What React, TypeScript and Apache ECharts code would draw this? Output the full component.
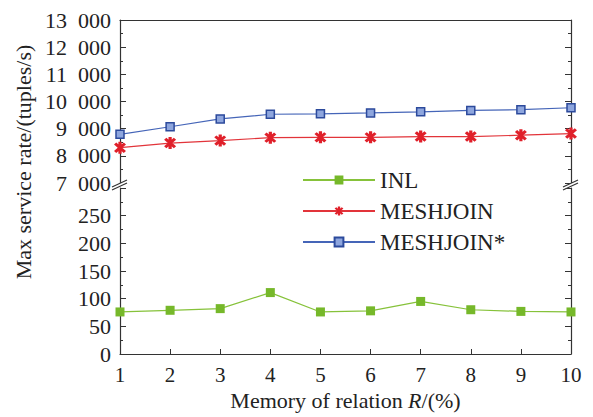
import React, { useEffect, useRef } from "react";
import * as echarts from "echarts";

const memory = [1, 2, 3, 4, 5, 6, 7, 8, 9, 10];
const inl = [76, 79, 82, 111, 76, 78, 95, 80, 77, 76];
const meshjoin = [8300, 8470, 8560, 8670, 8680, 8680, 8710, 8710, 8760, 8820];
const meshjoinStar = [8790, 9070, 9360, 9530, 9545, 9580, 9620, 9670, 9700, 9770];
const seriesNames = ["INL", "MESHJOIN", "MESHJOIN*"];

const FONT = "'Liberation Serif', 'Times New Roman', serif";
const AXIS_COLOR = "#333";
const GREEN = "#86c23a";
const RED = "#e2343a";
const BLUE = "#4565b8";

const asterisk =
  "path://M-1.4,-6 L1.4,-6 L1.4,6 L-1.4,6 Z M-3.25,-5.23 L5.23,3.25 L3.25,5.23 L-5.23,-3.25 Z M-5.23,3.25 L3.25,-5.23 L5.23,-3.25 L-3.25,5.23 Z";

const fmtThousands = (v: number) =>
  String(v).replace(/\B(?=(\d{3})+$)/g, "\u2002");

export default function App() {
  const ref = useRef<HTMLDivElement>(null);
  useEffect(() => {
    if (!ref.current) return;
    const chart = echarts.init(ref.current, null, { renderer: "svg" });
    const left = 120;
    const right = 22;
    const axisLine = { show: true, lineStyle: { color: AXIS_COLOR, width: 1.2 } };
    const tick = { show: true, inside: true, length: 6, lineStyle: { color: AXIS_COLOR } };
    const minor = { show: true, splitNumber: 2, length: 3, lineStyle: { color: AXIS_COLOR } };
    const label = { fontFamily: FONT, fontSize: 22, color: "#222" };
    const breakLines = (x: number) => [
      {
        type: "polygon",
        shape: { points: [[x - 8, 187], [x + 7, 180], [x + 7, 183], [x - 8, 190]] },
        style: { fill: "#fff" },
        z: 100,
      },
      {
        type: "line",
        shape: { x1: x - 8, y1: 187, x2: x + 7, y2: 180 },
        style: { stroke: AXIS_COLOR, lineWidth: 1.2 },
        z: 101,
      },
      {
        type: "line",
        shape: { x1: x - 8, y1: 190, x2: x + 7, y2: 183 },
        style: { stroke: AXIS_COLOR, lineWidth: 1.2 },
        z: 101,
      },
    ];
    chart.setOption({
      animation: false,
      backgroundColor: "#fff",
      grid: [
        { left, right, top: 20, height: 163 },
        { left, right, top: 188, height: 166 },
      ],
      legend: {
        orient: "vertical",
        left: 297,
        top: 162,
        itemWidth: 72,
        itemHeight: 11,
        itemGap: 5,
        data: seriesNames,
        textStyle: { fontFamily: FONT, fontSize: 23, color: "#222", lineHeight: 26 },
      },
      xAxis: [
        {
          gridIndex: 0,
          type: "value",
          position: "top",
          min: 1,
          max: 10,
          interval: 1,
          axisLine,
          axisTick: { show: false },
          axisLabel: { show: false },
          splitLine: { show: false },
        },
        {
          gridIndex: 1,
          type: "value",
          position: "bottom",
          min: 1,
          max: 10,
          interval: 1,
          axisLine,
          axisTick: { ...tick, length: 5 },
          axisLabel: { ...label, fontSize: 21, margin: 10 },
          splitLine: { show: false },
          name: "Memory of relation {i|R}/(%)",
          nameLocation: "middle",
          nameGap: 35,
          nameTextStyle: {
            fontFamily: FONT,
            fontSize: 22,
            color: "#222",
            rich: {
              i: { fontFamily: FONT, fontSize: 22, fontStyle: "italic", color: "#222" },
            },
          },
        },
      ],
      yAxis: [
        {
          gridIndex: 0,
          type: "value",
          position: "left",
          min: 7000,
          max: 13000,
          interval: 1000,
          axisLine,
          axisTick: tick,
          minorTick: minor,
          axisLabel: { ...label, margin: 9, formatter: (v: number) => fmtThousands(v) },
          splitLine: { show: false },
        },
        {
          gridIndex: 0,
          type: "value",
          position: "right",
          min: 7000,
          max: 13000,
          interval: 1000,
          axisLine,
          axisTick: tick,
          minorTick: minor,
          axisLabel: { show: false },
          splitLine: { show: false },
        },
        {
          gridIndex: 1,
          type: "value",
          position: "left",
          min: 0,
          max: 300,
          interval: 50,
          axisLine,
          axisTick: tick,
          minorTick: minor,
          axisLabel: {
            ...label,
            margin: 9,
            formatter: (v: number) => (v >= 300 ? "" : String(v)),
          },
          splitLine: { show: false },
        },
        {
          gridIndex: 1,
          type: "value",
          position: "right",
          min: 0,
          max: 300,
          interval: 50,
          axisLine,
          axisTick: tick,
          minorTick: minor,
          axisLabel: { show: false },
          splitLine: { show: false },
        },
      ],
      series: [
        {
          name: seriesNames[0],
          type: "line",
          xAxisIndex: 1,
          yAxisIndex: 2,
          data: memory.map((m, i) => [m, inl[i]]),
          symbol: "rect",
          symbolSize: 9,
          itemStyle: { color: "#76b82a" },
          lineStyle: { color: GREEN, width: 1.2 },
        },
        {
          name: seriesNames[1],
          type: "line",
          xAxisIndex: 0,
          yAxisIndex: 0,
          data: memory.map((m, i) => [m, meshjoin[i]]),
          symbol: asterisk,
          symbolSize: 12,
          itemStyle: { color: "#e0202a" },
          lineStyle: { color: RED, width: 1.2 },
        },
        {
          name: seriesNames[2],
          type: "line",
          xAxisIndex: 0,
          yAxisIndex: 0,
          data: memory.map((m, i) => [m, meshjoinStar[i]]),
          symbol: "rect",
          symbolSize: 8,
          itemStyle: { color: "#8ea6de", borderColor: "#2c4a9c", borderWidth: 1.5 },
          lineStyle: { color: BLUE, width: 1.2 },
        },
      ],
      graphic: [
        {
          type: "text",
          x: 23,
          y: 162,
          rotation: Math.PI / 2,
          style: {
            text: "Max service rate/(tuples/s)",
            fontFamily: FONT,
            fontSize: 22,
            fill: "#222",
            align: "center",
            verticalAlign: "middle",
          },
        },
        ...breakLines(120),
        ...breakLines(571),
      ],
    });
    return () => chart.dispose();
  }, []);
  return (
    <div
      ref={ref}
      style={{ position: "fixed", left: 0, top: 0, width: 593, height: 417, background: "#fff" }}
    />
  );
}
